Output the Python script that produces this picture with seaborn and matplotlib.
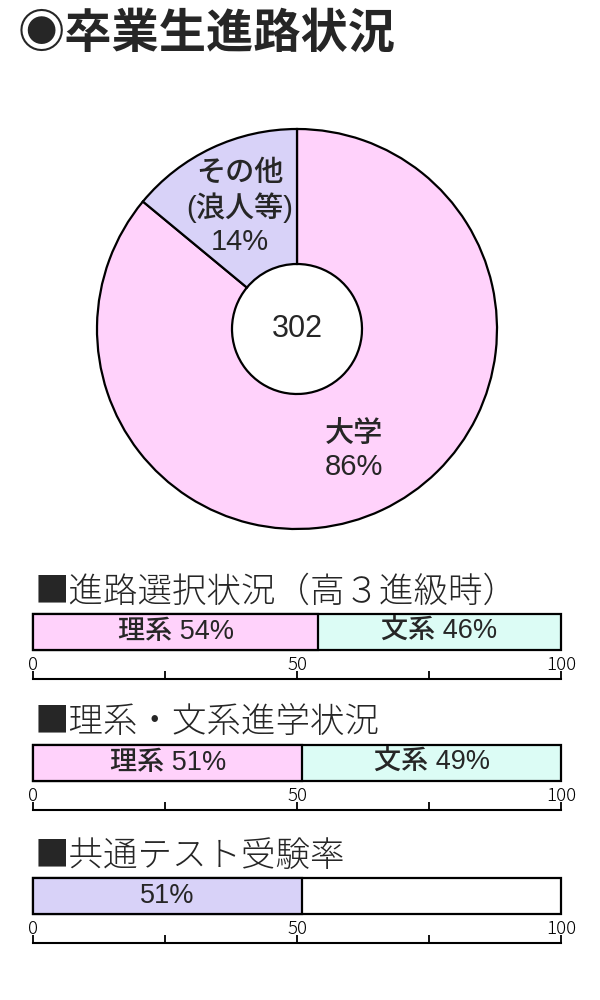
import numpy as np
import pandas as pd
import seaborn as sns
import matplotlib.pyplot as plt

sns.set_theme(style='white')
plt.rcParams['font.family'] = ['Liberation Sans', 'Noto Sans CJK JP', 'DejaVu Sans']
CJK = ['Noto Sans CJK JP', 'DejaVu Sans']

# 色
PINK = '#FFD2FB'
LAVENDER = '#D8D2F8'
MINT = '#DCFCF5'

# データ
title = '◉卒業生進路状況'
pie_labels = ['大学', 'その他\n(浪人等)']
pie_values = [86, 14]
pie_colors = [PINK, LAVENDER]
total_students = 302

bar_titles = ['■進路選択状況（高３進級時）', '■理系・文系進学状況', '■共通テスト受験率']
bar_labels = [['理系', '文系'], ['理系', '文系'], ['', '']]
bar_values = [[54, 46], [51, 49], [51, 49]]
bar_colors = [[PINK, MINT], [PINK, MINT], [LAVENDER, 'white']]
bar_shown = [[True, True], [True, True], [True, False]]
scale_ticks = [0, 25, 50, 75, 100]
scale_labels = ['0', '', '50', '', '100']

# レイアウト (ピクセル)
W, H = 600, 1000
fig = plt.figure(figsize=(W / 100, H / 100), dpi=100)


def px_axes(left, top, width, height):
    return fig.add_axes([left / W, 1 - (top + height) / H, width / W, height / H])


fig.text(18 / W, 1 - 34 / H, title, fontsize=34, fontweight='bold', va='center',
         family=CJK)

# ドーナツグラフ
ax = px_axes(92, 124, 410, 410)
wedges, texts = ax.pie(
    pie_values,
    labels=[f'{l}\n{v}%' for l, v in zip(pie_labels, pie_values)],
    colors=pie_colors,
    startangle=90,
    counterclock=False,
    labeldistance=0.67,
    wedgeprops=dict(width=1 - 0.325, edgecolor='black', linewidth=1.6),
    textprops=dict(ha='center', va='center', fontsize=21, fontweight='medium',
                   linespacing=1.22, multialignment='center'),
)
ax.set_xlim(-1.025, 1.025)
ax.set_ylim(-1.025, 1.025)
ax.set_aspect('equal')
ax.text(0, 0, str(total_students), ha='center', va='center', fontsize=22)

# 帯グラフ
bar_tops = [614, 745, 878]
axis_lines = [679, 810, 943]
header_y = [592, 722, 856]

for i in range(len(bar_titles)):
    fig.text(35 / W, 1 - header_y[i] / H, bar_titles[i], fontsize=24.8,
             fontweight='light', va='center', family=CJK)

    vals = np.array(bar_values[i])
    rights = np.cumsum(vals)
    lefts = rights - vals

    ax = px_axes(33, bar_tops[i], 528, 36)
    # 後ろから描いて積み上げに見せる
    for j in reversed(range(len(vals))):
        df = pd.DataFrame({'end': [rights[j]], 'row': ['r']})
        sns.barplot(data=df, x='end', y='row', color=bar_colors[i][j], saturation=1,
                    edgecolor='black', linewidth=1.6, width=1, errorbar=None, ax=ax)
    for p in ax.patches:
        p.set_clip_on(False)
    ax.set_xlim(0, 100)
    ax.set_ylim(0.5, -0.5)
    ax.axis('off')

    for j, v in enumerate(vals):
        if bar_shown[i][j]:
            txt = f'{bar_labels[i][j]} {v}%'.strip()
            ax.text(lefts[j] + v / 2, 0, txt, ha='center', va='center',
                    fontsize=19.5, fontweight='medium')

    # 目盛り
    sx = px_axes(33, axis_lines[i] - 8, 528, 8)
    sx.patch.set_alpha(0)
    sx.set_xlim(0, 100)
    sx.set_ylim(0, 1)
    sx.set_xticks(scale_ticks)
    sx.set_xticklabels(scale_labels)
    sx.set_yticks([])
    for s in ['top', 'left', 'right']:
        sx.spines[s].set_visible(False)
    sx.spines['bottom'].set_color('black')
    sx.spines['bottom'].set_linewidth(1.5)
    sx.tick_params(axis='x', direction='in', length=6, width=1.3, color='black',
                   labelcolor='black', bottom=True, top=False, labelbottom=False,
                   labeltop=True, pad=-2, labelsize=13.5)
    for lab in sx.get_xticklabels():
        lab.set_fontweight('light')
        lab.set_family(CJK)

fig.savefig('out.png', dpi=100)
